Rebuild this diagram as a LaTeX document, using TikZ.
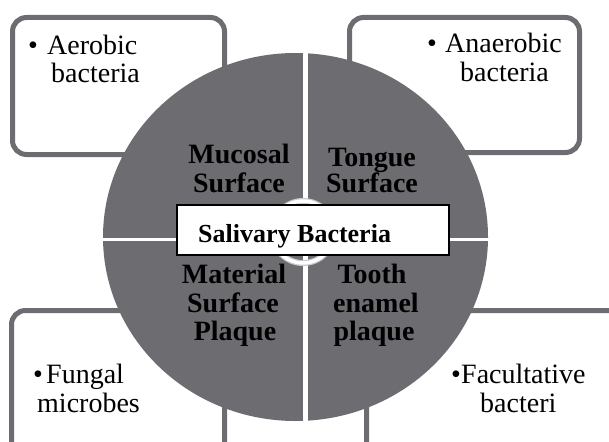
\documentclass[tikz,border=0pt]{standalone}
\usepackage{fontspec}
\setmainfont{Liberation Serif}
\definecolor{disk}{RGB}{109,108,113}
\definecolor{ringedge}{RGB}{200,200,202}
\begin{document}
\begin{tikzpicture}[x=1pt,y=-1pt,
  outerbox/.style={draw=disk, line width=5pt, rounded corners=14pt, fill=white},
  word/.style={anchor=base west, inner sep=0pt, font=\fontsize{28}{28}\selectfont},
  bul/.style={anchor=base, inner sep=0pt, font=\fontsize{28}{28}\selectfont},
  lab/.style={anchor=base, inner sep=0pt, font=\bfseries\fontsize{28}{28}\selectfont},
  gap/.style={draw=white}]
\useasboundingbox (0,0) rectangle (609,441);
\clip (0,0) rectangle (609,441);
% corner boxes
\draw[outerbox] (12.5,17.5) rectangle (224.5,154.5);
\draw[outerbox] (349.5,17.5) rectangle (579.5,152.5);
\draw[outerbox] (11.5,310.5) rectangle (224.5,470);
\draw[outerbox] (366.5,310.5) rectangle (625,470);
% disk
\fill[disk] (295.5,237) ellipse [x radius=192.5, y radius=184];
\draw[gap, line width=4.5pt] (305.5,40) -- (305.5,435);
\draw[gap, line width=3pt] (90,239) -- (500,239);
% centre ring
\draw[ringedge, line width=6pt] (303,232) circle (31);
\draw[white, line width=3.5pt] (303,232) circle (31);
% centre box
\node[draw=black, line width=1.5pt, fill=white, minimum width=272pt, minimum height=50pt, inner sep=0pt] (centre) at (313,230) {};
\node[anchor=base west, inner sep=0pt, font=\bfseries\fontsize{26}{26}\selectfont] (sal) at (198,242) {Salivary Bacteria};
% quadrant labels
\node[lab] (q1a) at (239,163) {Mucosal};
\node[lab] (q1b) at (239,192) {Surface};
\node[lab] (q2a) at (372,166) {Tongue};
\node[lab] (q2b) at (372,192) {Surface};
\node[lab] (q3a) at (234,283) {Material};
\node[lab] (q3b) at (233,312) {Surface};
\node[lab] (q3c) at (235,340) {Plaque};
\node[lab] (q4a) at (372,283) {Tooth};
\node[lab] (q4b) at (376,312) {enamel};
\node[lab] (q4c) at (374,340) {plaque};
% corner texts
\node[bul] (b1) at (33,55) {•};
\node[word] (t1a) at (47,55) {Aerobic};
\node[word] (t1b) at (51,83) {bacteria};
\node[bul] (b2) at (432,53) {•};
\node[word] (t2a) at (445,53) {Anaerobic};
\node[word] (t2b) at (460,82) {bacteria};
\node[bul] (b3) at (38,383) {•};
\node[word] (t3a) at (46,383) {Fungal};
\node[word] (t3b) at (37,412) {microbes};
\node[bul] (b4) at (456,383) {•};
\node[word] (t4a) at (461,383) {Facultative};
\node[word] (t4b) at (480,412) {bacteri};
\end{tikzpicture}
\end{document}
